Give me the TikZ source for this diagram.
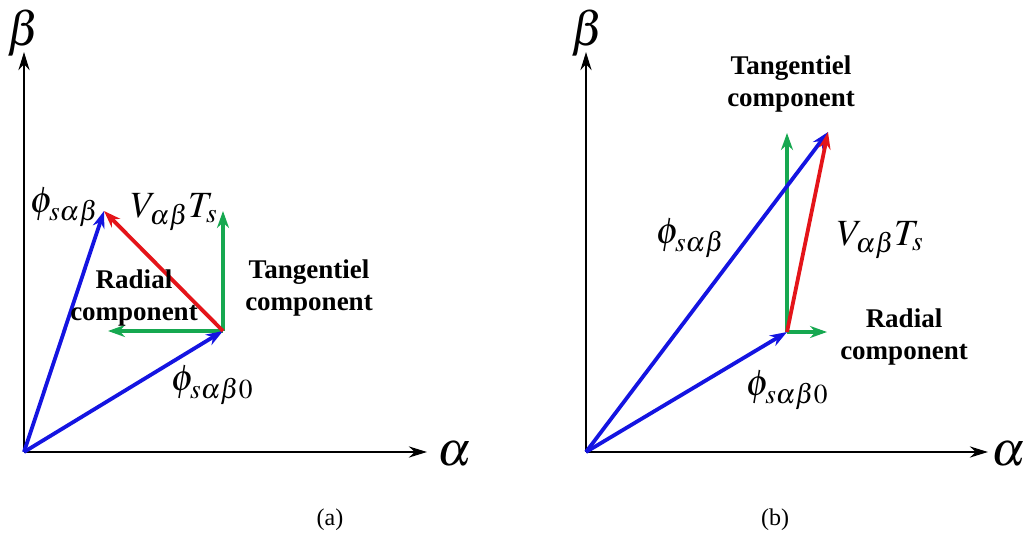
\documentclass[tikz,border=0pt]{standalone}
\usepackage{mathptmx}
\usepackage{fontspec}
\setmainfont{Liberation Serif}
\usetikzlibrary{arrows.meta}
\definecolor{vblue}{RGB}{20,20,225}
\definecolor{vred}{RGB}{228,20,25}
\definecolor{vgreen}{RGB}{22,168,80}
\begin{document}
\begin{tikzpicture}[x=1pt,y=1pt,
  axisline/.style={line width=2.8pt,-{Stealth[length=18pt,width=11pt]}},
  vecline/.style={line width=3.8pt,-{Stealth[length=17pt,width=12pt]}},
  txtlbl/.style={font=\fontsize{27}{32}\selectfont\bfseries,align=center,inner sep=0pt},
  mathlbl/.style={font=\fontsize{37}{42}\selectfont,inner sep=0pt},
  axlbl/.style={font=\fontsize{48}{52}\selectfont,inner sep=0pt},
  sublbl/.style={font=\fontsize{24}{28}\selectfont,inner sep=0pt}]
\useasboundingbox (0,0) rectangle (1028,542);
% ---------------- panel (a)
\coordinate (Oa) at (24,90);
\coordinate (Ya) at (24,490);
\coordinate (Xa) at (427,90);
\coordinate (A0) at (223,211);
\coordinate (A1) at (104,331);
\coordinate (GVa) at (223,331);
\coordinate (GHa) at (108,211);
\draw[axisline] (Oa) -- (Ya);
\draw[axisline] (Oa) -- (Xa);
\draw[vecline,vgreen] (A0) -- (GVa);
\draw[vecline,vgreen] (A0) -- (GHa);
\draw[vecline,vblue] (Oa) -- (A0);
\draw[vecline,vblue] (Oa) -- (A1);
\draw[vecline,vred] (A0) -- (A1);
\node[axlbl] (ba) at (24,509) {$\beta$};
\node[axlbl] (aa) at (455,88) {$\alpha$};
\node[mathlbl] (pa) at (64,335) {$\phi_{s\alpha\beta}$};
\node[mathlbl] (va) at (174,330) {$V_{\alpha\beta}T_s$};
\node[txtlbl] (ra) at (134,244) {Radial\\component};
\node[txtlbl] (ta) at (309,254) {Tangentiel\\component};
\node[mathlbl] (p0a) at (212,157) {$\phi_{s\alpha\beta0}$};
\node[sublbl] (la) at (330,22) {(a)};
% ---------------- panel (b)
\coordinate (Ob) at (586,90);
\coordinate (Yb) at (586,490);
\coordinate (Xb) at (988,90);
\coordinate (B0) at (787,210);
\coordinate (B1) at (828,410);
\coordinate (GVb) at (787,409);
\coordinate (GHb) at (827,210);
\draw[axisline] (Ob) -- (Yb);
\draw[axisline] (Ob) -- (Xb);
\draw[vecline,vgreen] (B0) -- (GVb);
\draw[vecline,vgreen] (B0) -- (GHb);
\draw[vecline,vblue] (Ob) -- (B0);
\draw[vecline,vblue] (Ob) -- (B1);
\draw[vecline,vred] (B0) -- (B1);
\node[axlbl] (bb) at (588,509) {$\beta$};
\node[axlbl] (ab) at (1009,88) {$\alpha$};
\node[txtlbl] (tb) at (791,458) {Tangentiel\\component};
\node[mathlbl] (pb) at (690,304) {$\phi_{s\alpha\beta}$};
\node[mathlbl] (vb) at (880,302) {$V_{\alpha\beta}T_s$};
\node[txtlbl] (rb) at (904,205) {Radial\\component};
\node[mathlbl] (p0b) at (787,152) {$\phi_{s\alpha\beta0}$};
\node[sublbl] (lb) at (775,22) {(b)};
\end{tikzpicture}
\end{document}
